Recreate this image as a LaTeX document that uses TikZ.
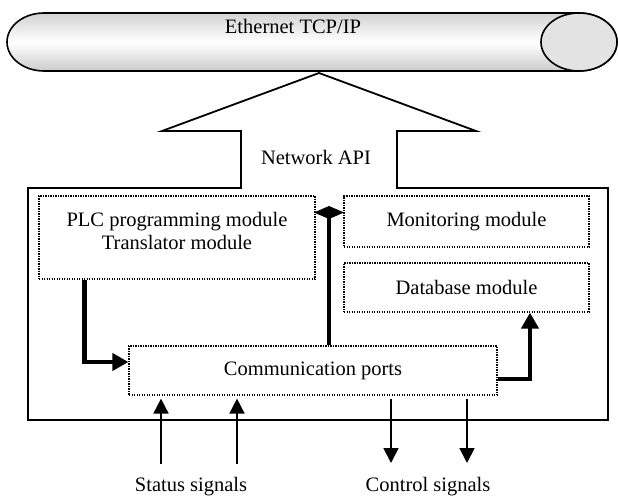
\documentclass[tikz,border=0pt]{standalone}
\usepackage{fontspec}
\setmainfont{Liberation Serif}
\usetikzlibrary{arrows.meta,calc}
\begin{document}
\begin{tikzpicture}[x=1pt,y=-1pt,
  txt/.style={font=\fontsize{20.5}{23}\selectfont, inner sep=0pt, align=center},
  dotbox/.style={draw, line width=1.2pt, dash pattern=on 1.2pt off 1.3pt, inner sep=0pt},
  thickarrow/.style={line width=4.5pt, -{Triangle[length=16pt,width=17pt]}},
  sigarrow/.style={line width=1.8pt, -{Triangle[length=15pt,width=15pt]}},
  outline/.style={line width=1.8pt, line join=miter}]
\useasboundingbox (0,0) rectangle (618,497);
% Ethernet pipe
\draw[line width=1.6pt, top color=gray!35, bottom color=gray!40, middle color=white]
  (44,13) -- (579,13) arc[start angle=-90, end angle=90, x radius=38, y radius=29]
  -- (44,71) arc[start angle=90, end angle=270, x radius=37, y radius=29] -- cycle;
\draw[line width=1.6pt, fill=gray!22] (579,42) ellipse [x radius=38, y radius=29];
\node[txt] (eth) at (293,26) {Ethernet TCP/IP};
% main box with Network API arrow
\draw[outline] (241,188) -- (28,188) -- (28,420) -- (608,420) -- (608,188) -- (397,188)
  -- (397,131) -- (476,131) -- (319,73) -- (162,131) -- (241,131) -- cycle;
\node[txt] (api) at (316,157) {Network API};
% modules
\node[dotbox, minimum width=276pt, minimum height=83pt] (plc) at (177,237.5) {};
\node[txt] (plctxt) at (177,231) {PLC programming module\\Translator module};
\node[dotbox, txt, minimum width=245pt, minimum height=51pt] (mon) at (466.5,221.5) {Monitoring module};
\node[dotbox, txt, minimum width=245pt, minimum height=49pt] (db) at (466.5,287.5) {Database module};
\node[dotbox, txt, minimum width=368pt, minimum height=49pt] (comm) at (313,370.5) {Communication ports};
% thick connectors
\draw[thickarrow] ([xshift=46pt]plc.south west) |- ([yshift=8.5pt]comm.west);
\draw[thickarrow] ([yshift=-8.5pt]comm.east) -| ([xshift=63.5pt]db.south);
\coordinate (dtip) at (329,206);
\draw[line width=4.5pt, -{Diamond[length=13pt,width=30pt]}] (dtip |- comm.north) -- (dtip);
% signals
\coordinate (s1) at (161,464);
\coordinate (s2) at (237,464);
\coordinate (c1) at (391,463);
\coordinate (c2) at (467,463);
\draw[sigarrow, shorten >=3pt] (s1) -- (s1 |- comm.south);
\draw[sigarrow, shorten >=3pt] (s2) -- (s2 |- comm.south);
\draw[sigarrow, shorten <=3pt] (c1 |- comm.south) -- (c1);
\draw[sigarrow, shorten <=3pt] (c2 |- comm.south) -- (c2);
\node[txt] (stat) at (191,487) {Status signals};
\node[txt] (ctrl) at (428,487) {Control signals};
\end{tikzpicture}
\end{document}
